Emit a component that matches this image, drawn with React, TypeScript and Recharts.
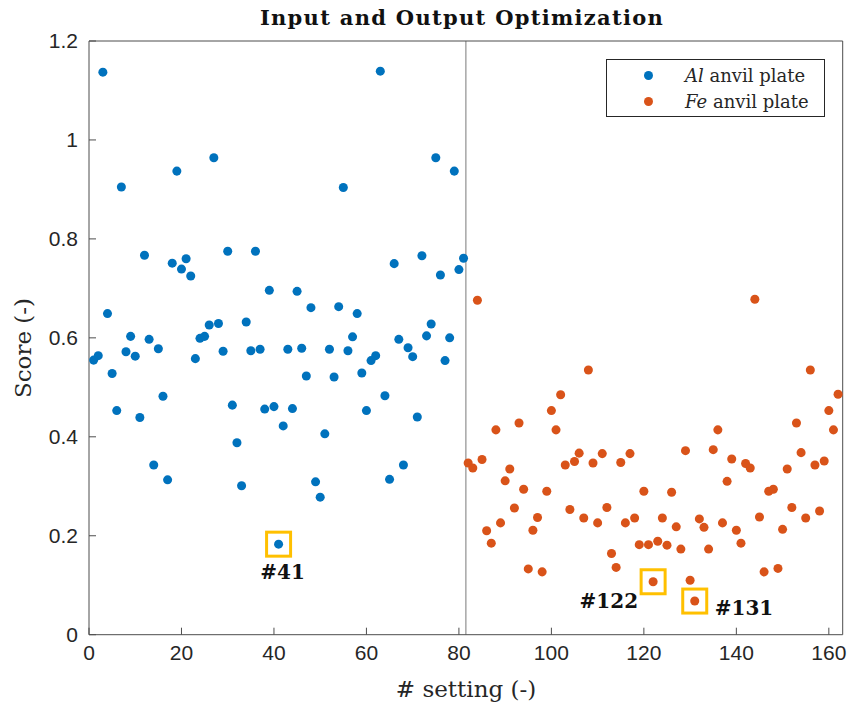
import {
  ScatterChart,
  Scatter,
  XAxis,
  YAxis,
  ReferenceLine,
  ReferenceDot,
  Legend,
} from "recharts";

// scores, one per setting
const alScores = [
  0.555, 0.564, 1.137, 0.649, 0.528, 0.453, 0.905, 0.572, 0.603, 0.563,
  0.439, 0.767, 0.597, 0.343, 0.578, 0.482, 0.313, 0.751, 0.937, 0.739,
  0.76, 0.725, 0.558, 0.599, 0.603, 0.626, 0.964, 0.629, 0.573, 0.775,
  0.464, 0.388, 0.301, 0.632, 0.574, 0.775, 0.577, 0.456, 0.696, 0.461,
  0.183, 0.422, 0.577, 0.457, 0.694, 0.579, 0.523, 0.661, 0.309, 0.278,
  0.406, 0.577, 0.521, 0.663, 0.904, 0.574, 0.602, 0.649, 0.529, 0.453,
  0.554, 0.564, 1.139, 0.483, 0.314, 0.75, 0.597, 0.343, 0.58, 0.562,
  0.44, 0.766, 0.604, 0.628, 0.964, 0.727, 0.554, 0.6, 0.937, 0.738,
  0.761,
];

const feScores = [
  0.347, 0.337, 0.676, 0.354, 0.21, 0.185, 0.414, 0.226, 0.311, 0.335,
  0.256, 0.428, 0.294, 0.133, 0.211, 0.237, 0.127, 0.29, 0.453, 0.414,
  0.485, 0.343, 0.253, 0.35, 0.367, 0.236, 0.535, 0.347, 0.226, 0.366,
  0.257, 0.164, 0.136, 0.348, 0.226, 0.366, 0.236, 0.182, 0.29, 0.182,
  0.107, 0.189, 0.236, 0.181, 0.288, 0.218, 0.173, 0.372, 0.11, 0.068,
  0.234, 0.217, 0.173, 0.374, 0.414, 0.226, 0.31, 0.355, 0.211, 0.185,
  0.346, 0.337, 0.678, 0.238, 0.127, 0.29, 0.294, 0.134, 0.213, 0.335,
  0.257, 0.428, 0.368, 0.236, 0.535, 0.343, 0.25, 0.351, 0.453, 0.414,
  0.486,
];

const xTicks = [0, 20, 40, 60, 80, 100, 120, 140, 160];
const yTicks = [0, 0.2, 0.4, 0.6, 0.8, 1, 1.2];
const highlighted = [41, 122, 131];

const alData = alScores.map((score, i) => ({ setting: i + 1, score }));
const feData = feScores.map((score, i) => ({
  setting: alScores.length + i + 1,
  score,
}));
const allData = [...alData, ...feData];

const BLUE = "#0072BD";
const ORANGE = "#D95319";
const AXIS = "#4d4d4d";
const SERIF = "'DejaVu Serif', serif";
const SANS = "'Liberation Sans', Arial, sans-serif";

// where each "#n" tag sits relative to its point
const tagSide: Record<number, string> = { 41: "below", 122: "left", 131: "right" };

function Highlight(props: any) {
  const { cx, cy, id } = props;
  const side = tagSide[id];
  let tx = cx + 4;
  let ty = cy + 35;
  let anchor = "middle";
  if (side === "left") {
    tx = cx - 15;
    ty = cy + 26;
    anchor = "end";
  } else if (side === "right") {
    tx = cx + 20;
    ty = cy + 14;
    anchor = "start";
  }
  return (
    <g>
      <rect
        x={cx - 12}
        y={cy - 12}
        width={24}
        height={24}
        fill="none"
        stroke="#FFC000"
        strokeWidth={3}
      />
      <text
        x={tx}
        y={ty}
        textAnchor={anchor}
        fontFamily={SERIF}
        fontWeight="bold"
        fontSize={20}
        fill="#111"
      >
        #{id}
      </text>
    </g>
  );
}

function LegendBox(props: any) {
  const { payload } = props;
  return (
    <div
      style={{
        width: 217,
        height: 56,
        border: "1px solid #262626",
        background: "#fff",
        fontFamily: SERIF,
        fontSize: 18,
        color: "#262626",
        boxSizing: "content-box",
      }}
    >
      {(payload || []).map((entry: any, i: number) => {
        const [first, ...rest] = String(entry.value).split(" ");
        return (
          <div
            key={i}
            style={{ display: "flex", alignItems: "center", height: 26.5, marginTop: i === 0 ? 2 : 0 }}
          >
            <span
              style={{
                display: "inline-block",
                width: 9,
                height: 9,
                borderRadius: "50%",
                background: entry.color,
                marginLeft: 37,
                marginRight: 32,
              }}
            />
            <span>
              <i>{first}</i> {rest.join(" ")}
            </span>
          </div>
        );
      })}
    </div>
  );
}

export default function App() {
  return (
    <div style={{ position: "absolute", left: 0, top: 0, background: "#fff" }}>
      <ScatterChart
        width={851}
        height={709}
        margin={{ top: 40, right: 7.3, bottom: 34.3, left: 29 }}
      >
        <XAxis
          type="number"
          dataKey="setting"
          domain={[0, 163]}
          ticks={xTicks}
          interval={0}
          height={40}
          tickSize={-7}
          tickMargin={17}
          stroke={AXIS}
          tick={{ fill: "#262626", fontSize: 21, fontFamily: SANS }}
        />
        <YAxis
          type="number"
          dataKey="score"
          domain={[0, 1.2]}
          ticks={yTicks}
          interval={0}
          width={60}
          tickSize={-7}
          tickMargin={18}
          stroke={AXIS}
          tick={{ fill: "#262626", fontSize: 21, fontFamily: SANS }}
        />
        <XAxis
          xAxisId="top"
          orientation="top"
          type="number"
          domain={[0, 163]}
          ticks={xTicks}
          interval={0}
          height={1}
          tickSize={-7}
          tick={false}
          stroke={AXIS}
        />
        <YAxis
          yAxisId="right"
          orientation="right"
          type="number"
          domain={[0, 1.2]}
          ticks={yTicks}
          interval={0}
          width={1}
          tickSize={-7}
          tick={false}
          stroke={AXIS}
        />
        <ReferenceLine x={81.5} stroke="#a6a6a6" strokeWidth={1.5} />
        <Scatter
          name="Al anvil plate"
          data={alData}
          fill={BLUE}
          isAnimationActive={false}
        />
        <Scatter
          name="Fe anvil plate"
          data={feData}
          fill={ORANGE}
          isAnimationActive={false}
        />
        {highlighted.map((id) => {
          const point = allData.find((d) => d.setting === id)!;
          return (
            <ReferenceDot
              key={id}
              x={point.setting}
              y={point.score}
              r={0}
              shape={(p: any) => <Highlight {...p} id={id} />}
            />
          );
        })}
        <Legend
          layout="horizontal"
          verticalAlign="middle"
          align="center"
          content={<LegendBox />}
          wrapperStyle={{ position: "absolute", left: 606, top: 59, width: 219, height: 58 }}
        />
        <text
          x={462}
          y={25}
          textAnchor="middle"
          fontFamily={SERIF}
          fontWeight="bold"
          fontSize={21}
          letterSpacing={1.3}
          fill="#111"
        >
          Input and Output Optimization
        </text>
        <text
          x={466}
          y={697}
          textAnchor="middle"
          fontFamily={SERIF}
          fontSize={23}
          fill="#262626"
        >
          # setting (-)
        </text>
        <text
          x={31}
          y={348}
          textAnchor="middle"
          transform="rotate(-90 31 348)"
          fontFamily={SERIF}
          fontSize={23}
          fill="#262626"
        >
          Score (-)
        </text>
      </ScatterChart>
    </div>
  );
}
